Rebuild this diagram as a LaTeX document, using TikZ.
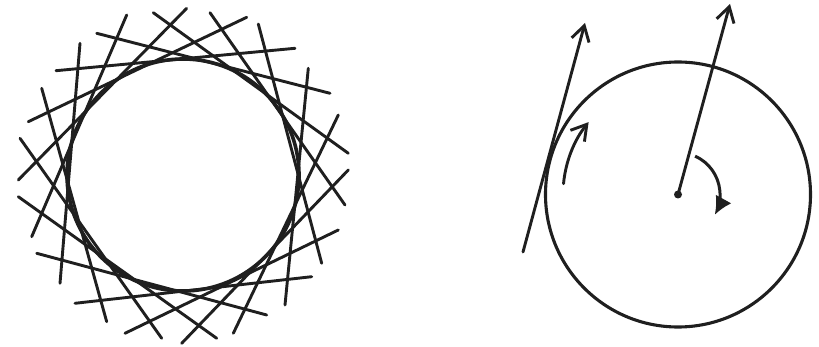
\documentclass[tikz,border=0pt]{standalone}
\usetikzlibrary{arrows.meta}
\tikzset{
  tline/.style={line width=2.9pt, line cap=round, black!88},
  ring/.style={line width=3.6pt, black!88},
  ring2/.style={line width=3.1pt, black!88},
  barb/.style={line width=2.9pt, line cap=round, black!88, -{Straight Barb[length=15pt,width=18pt,line width=2.9pt]}},
  bigarrow/.style={line width=3pt, black!88, -{Latex[length=18pt,width=18pt]}},
}
\begin{document}
\begin{tikzpicture}[x=1pt,y=-1pt]
\useasboundingbox (0,0) rectangle (819,347);
% ---------- left figure: circle with its tangent lines ----------
\coordinate (C1) at (183,175);
\draw[ring] (C1) circle[radius=116pt];
\foreach \n/\px/\py in {
 1/186.7/8.3, 2/210/12.7, 3/246.7/17.3, 4/258.3/24, 5/295/48.3, 6/308.3/68.3,
 7/330/93.3, 8/338.3/115, 9/348.3/153.3, 10/348.3/170, 11/345/205, 12/338.3/230,
 13/321.7/263.3, 14/311.7/276.7, 15/285/305, 16/266.7/315, 17/233.3/333.3, 18/216.7/338.3,
 19/181.7/343.3, 20/161.7/338.3, 21/125/333.3, 22/106.7/321.7, 23/75/303.3, 24/60/283.3,
 25/36.7/253.3, 26/31.7/236.7, 27/18.3/196.7, 28/18.3/180, 29/20/138.3, 30/28.3/121.7,
 31/41.7/88.3, 32/56/70.7, 33/80/43.3, 34/96.7/33.3, 35/126.7/15, 36/153.3/12.7}
 {\coordinate (e\n) at (\px,\py);}
\foreach \a/\b in {2/11,4/13,6/15,8/17,10/19,12/21,14/23,16/25,18/27,
                   20/29,22/31,24/33,26/35,28/1,30/3,32/5,34/7,36/9}
 {\draw[tline] (e\a) -- (e\b);}
% ---------- right figure ----------
\coordinate (C2) at (678,194.5);
\draw[ring2] (C2) circle[radius=132.5pt];
% tangent line with arrow
\coordinate (tA) at (523,252);
\coordinate (tB) at (585,23);
\draw[barb] (tA) -- (tB);
% radius line with arrow from the centre
\coordinate (rB) at (730,4);
\draw[barb] (C2) -- (rB);
\fill[black!88] (C2) circle[radius=4pt];
% small arc arrow along the rim
\draw[barb] ([shift={(174.6:115pt)}]C2) arc[start angle=174.6, end angle=141, radius=115pt];
% turning arrow near the centre
\draw[bigarrow] ([shift={(66:42pt)}]C2) arc[start angle=66, end angle=-29, radius=42pt];
\end{tikzpicture}
\end{document}
